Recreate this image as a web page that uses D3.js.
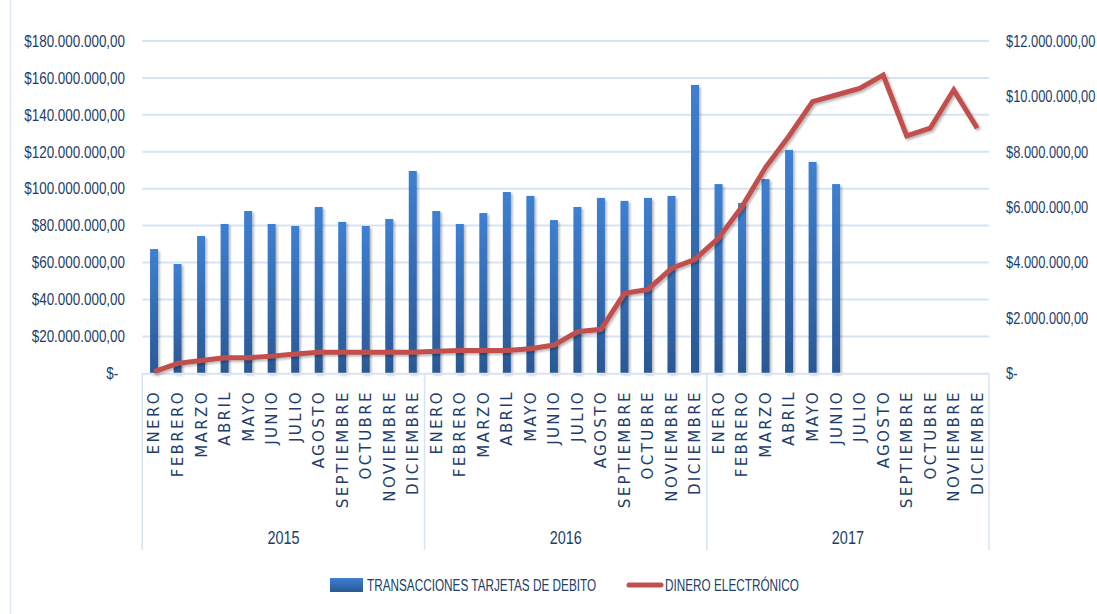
<!DOCTYPE html>
<html>
<head>
<meta charset="utf-8">
<script src="https://cdn.jsdelivr.net/npm/d3@7"></script>
<style>
  html, body { margin: 0; padding: 0; background: #ffffff; }
  svg { display: block; }
</style>
</head>
<body>
<svg id="chart" width="1097" height="614"></svg>
<script>
// ---- data ----
const years = ["2015", "2016", "2017"];
const months = ["ENERO", "FEBRERO", "MARZO", "ABRIL", "MAYO", "JUNIO", "JULIO",
  "AGOSTO", "SEPTIEMBRE", "OCTUBRE", "NOVIEMBRE", "DICIEMBRE"];

// Debit card transactions (left axis, $)
const debitCardTransactions = [
  67.3e6, 59.2e6, 74.4e6, 80.9e6, 87.9e6, 80.9e6, 79.8e6, 90.1e6, 82.0e6, 79.8e6, 83.6e6, 109.6e6,
  87.9e6, 80.9e6, 86.8e6, 98.2e6, 96.1e6, 83.0e6, 90.1e6, 95.0e6, 93.4e6, 95.0e6, 96.1e6, 156.2e6,
  102.5e6, 92.3e6, 105.2e6, 121.0e6, 114.5e6, 102.5e6, null, null, null, null, null, null
];

// Electronic money (right axis, $)
const electronicMoney = [
  0.06e6, 0.36e6, 0.46e6, 0.56e6, 0.56e6, 0.62e6, 0.70e6, 0.76e6, 0.76e6, 0.76e6, 0.76e6, 0.76e6,
  0.80e6, 0.82e6, 0.82e6, 0.82e6, 0.89e6, 1.02e6, 1.50e6, 1.59e6, 2.89e6, 3.03e6, 3.79e6, 4.12e6,
  4.88e6, 6.02e6, 7.44e6, 8.57e6, 9.81e6, 10.05e6, 10.29e6, 10.77e6, 8.57e6, 8.85e6, 10.23e6, 8.85e6
];

const leftTicks = [0, 20e6, 40e6, 60e6, 80e6, 100e6, 120e6, 140e6, 160e6, 180e6];
const rightTicks = [0, 2e6, 4e6, 6e6, 8e6, 10e6, 12e6];

const seriesNames = ["TRANSACCIONES TARJETAS DE DEBITO", "DINERO ELECTRÓNICO"];

// ---- layout ----
const plot = { left: 142.3, right: 989, top: 41, bottom: 373.3 };
const textColor = "#213d6b";
const gridColor = "#d7e3f2";
const barTop = "#3d80d2";
const barBottom = "#2a5894";
const lineColor = "#c0504d";
const labelFont = "'Liberation Sans', Arial, sans-serif";
const condense = 0.855; // horizontal squeeze for the condensed label look

const rows = [];
years.forEach(y => months.forEach(m => rows.push({ year: y, month: m })));
rows.forEach((r, i) => { r.debit = debitCardTransactions[i]; r.money = electronicMoney[i]; r.i = i; });

const svg = d3.select("#chart");

const x = d3.scaleBand()
  .domain(rows.map(r => r.i))
  .range([plot.left, plot.right])
  .paddingInner(0.66)
  .paddingOuter(0.33);

const yLeft = d3.scaleLinear().domain([0, 180e6]).range([plot.bottom, plot.top]);
const yRight = d3.scaleLinear().domain([0, 12e6]).range([plot.bottom, plot.top]);

const fmtMoney = v => {
  if (v === 0) return "$-";
  const s = d3.format(",.2f")(v);
  return "$" + s.replace(/,/g, "#").replace(/\./g, ",").replace(/#/g, ".");
};

// ---- defs ----
const defs = svg.append("defs");
const grad = defs.append("linearGradient")
  .attr("id", "barGrad").attr("x1", 0).attr("y1", 0).attr("x2", 0).attr("y2", 1);
grad.append("stop").attr("offset", "0%").attr("stop-color", barTop);
grad.append("stop").attr("offset", "100%").attr("stop-color", barBottom);

const shadow = defs.append("filter").attr("id", "shadow")
  .attr("x", "-20%").attr("y", "-20%").attr("width", "160%").attr("height", "160%");
shadow.append("feDropShadow")
  .attr("dx", 1.8).attr("dy", 1.8).attr("stdDeviation", 1.3)
  .attr("flood-color", "#000").attr("flood-opacity", 0.28);

// ---- frame line at left edge of chart area ----
svg.append("line")
  .attr("x1", 10.5).attr("x2", 10.5).attr("y1", 0).attr("y2", 614)
  .attr("stroke", "#dce7f4").attr("stroke-width", 1.5);

// ---- gridlines ----
svg.append("g").selectAll("line")
  .data(leftTicks.filter(t => t > 0))
  .join("line")
  .attr("x1", plot.left).attr("x2", plot.right)
  .attr("y1", d => yLeft(d)).attr("y2", d => yLeft(d))
  .attr("stroke", gridColor).attr("stroke-width", 2);

// ---- left axis ----
const leftAxis = svg.append("g")
  .attr("transform", `translate(125,0)`)
  .call(d3.axisLeft(yLeft).tickValues(leftTicks).tickFormat(fmtMoney).tickSize(0).tickPadding(0));
leftAxis.select(".domain").remove();
leftAxis.selectAll("text")
  .attr("x", d => d === 0 ? -8 : 0)
  .attr("transform", `scale(${condense},1.04)`)
  .attr("fill", textColor)
  .attr("font-family", labelFont)
  .attr("font-size", "15.7px");

// ---- right axis ----
const rightAxis = svg.append("g")
  .attr("transform", `translate(1006,0)`)
  .call(d3.axisRight(yRight).tickValues(rightTicks).tickFormat(fmtMoney).tickSize(0).tickPadding(0));
rightAxis.select(".domain").remove();
rightAxis.selectAll("text")
  .attr("transform", `scale(0.82,1.04)`)
  .attr("fill", textColor)
  .attr("font-family", labelFont)
  .attr("font-size", "15.7px");

// ---- bars ----
svg.append("g").selectAll("rect")
  .data(rows.filter(r => r.debit != null))
  .join("rect")
  .attr("x", r => x(r.i))
  .attr("width", x.bandwidth())
  .attr("y", r => yLeft(r.debit))
  .attr("height", r => yLeft(0) - yLeft(r.debit))
  .attr("fill", "url(#barGrad)")
  .attr("filter", "url(#shadow)");

// ---- category axis (months + years) ----
const axisG = svg.append("g");
axisG.append("line")
  .attr("x1", plot.left).attr("x2", plot.right)
  .attr("y1", plot.bottom + 0.5).attr("y2", plot.bottom + 0.5)
  .attr("stroke", gridColor).attr("stroke-width", 2);

const step = x.step();
const groupEdges = years.map((y, k) => x(k * 12) - x.paddingOuter() * step);
groupEdges.push(plot.right);
axisG.selectAll("line.sep")
  .data(groupEdges)
  .join("line")
  .attr("class", "sep")
  .attr("x1", d => d).attr("x2", d => d)
  .attr("y1", plot.bottom).attr("y2", 550)
  .attr("stroke", gridColor).attr("stroke-width", 1.5);

axisG.selectAll("text.month")
  .data(rows)
  .join("text")
  .attr("class", "month")
  .attr("transform", r => `translate(${x(r.i) + x.bandwidth() / 2},390) rotate(-90)`)
  .attr("text-anchor", "end")
  .attr("dy", "0.36em")
  .attr("fill", textColor)
  .attr("font-family", "'DejaVu Sans', sans-serif")
  .attr("font-size", "15px")
  .attr("letter-spacing", "2.4px")
  .text(r => r.month);

axisG.selectAll("text.year")
  .data(years)
  .join("text")
  .attr("class", "year")
  .attr("transform", (y, k) => `translate(${(groupEdges[k] + groupEdges[k + 1]) / 2},544) scale(0.8,1.05)`)
  .attr("text-anchor", "middle")
  .attr("fill", textColor)
  .attr("font-family", labelFont)
  .attr("font-size", "18px")
  .text(y => y);

// ---- electronic money line ----
const line = d3.line()
  .x(r => x(r.i) + x.bandwidth() / 2)
  .y(r => yRight(r.money));
svg.append("path")
  .datum(rows)
  .attr("d", line)
  .attr("fill", "none")
  .attr("stroke", lineColor)
  .attr("stroke-width", 5)
  .attr("stroke-linejoin", "miter")
  .attr("filter", "url(#shadow)");

// ---- legend ----
const legend = svg.append("g");
legend.append("rect")
  .attr("x", 330).attr("y", 578).attr("width", 33).attr("height", 14)
  .attr("fill", "url(#barGrad)");
legend.append("text")
  .attr("transform", `translate(367,591) scale(0.735,1.05)`)
  .attr("fill", textColor)
  .attr("font-family", labelFont)
  .attr("font-size", "16px")
  .text(seriesNames[0]);
legend.append("line")
  .attr("x1", 629).attr("x2", 661).attr("y1", 585).attr("y2", 585)
  .attr("stroke", lineColor).attr("stroke-width", 5).attr("stroke-linecap", "round");
legend.append("text")
  .attr("transform", `translate(665,591) scale(0.735,1.05)`)
  .attr("fill", textColor)
  .attr("font-family", labelFont)
  .attr("font-size", "16px")
  .text(seriesNames[1]);
</script>
</body>
</html>
